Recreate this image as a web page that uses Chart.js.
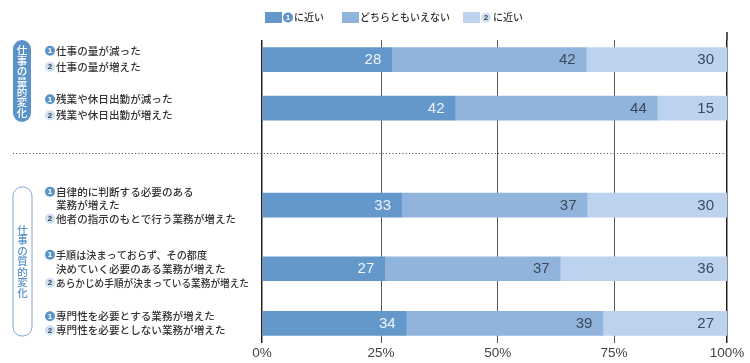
<!DOCTYPE html>
<html>
<head>
<meta charset="utf-8">
<script src="https://cdn.jsdelivr.net/npm/chart.js@4"></script>
<style>
    html, body { margin: 0; padding: 0; background: #fff; }
    canvas { display: block; }
</style>
</head>
<body>
<canvas id="mainChart" width="750" height="363"></canvas>
<script>
// bar lengths as drawn in the picture (they differ a little from the printed numbers)
const near1Values = [27.9, 41.5, 30.0, 26.4, 31.0];
const neutralValues = [41.8, 43.5, 39.9, 37.7, 42.3];
const near2Values = [30.3, 15.0, 30.1, 35.9, 26.7];

// numbers printed on the bars
const near1Printed = ['28', '42', '33', '27', '34'];
const neutralPrinted = ['42', '44', '37', '37', '39'];
const near2Printed = ['30', '15', '30', '36', '27'];

const seriesNames = ['に近い', 'どちらともいえない', 'に近い'];
const tickLabels = ['0%', '25%', '50%', '75%', '100%'];
const gridValues = [0, 25.6, 50.7, 75.7, 100];

// empty slots in front of each row, the rows are not evenly spaced
const slotsBefore = [6, 15, 31, 20, 17];
const slotsAfter = 6;

const rowLines = [
    [['1', '仕事の量が減った'], ['2', '仕事の量が増えた']],
    [['1', '残業や休日出勤が減った'], ['2', '残業や休日出勤が増えた']],
    [['1', '自律的に判断する必要のある'], ['', '業務が増えた'], ['2', '他者の指示のもとで行う業務が増えた']],
    [['1', '手順は決まっておらず、その都度', 151], ['', '決めていく必要のある業務が増えた'], ['2', 'あらかじめ手順が決まっている業務が増えた', 193]],
    [['1', '専門性を必要とする業務が増えた'], ['2', '専門性を必要としない業務が増えた']]
];
const lineGaps = [16, 16, 13.5, 14, 14];

const groupQuantity = '仕事の量的変化';
const groupQuality = '仕事の質的変化';

const colorNear1 = '#6498ca';
const colorNeutral = '#90b4dc';
const colorNear2 = '#bdd2ee';
const colorText = '#333333';
const jpFont = '"Noto Sans CJK JP"';
const numFont = '"Liberation Sans"';

// spread the five rows over the category slots
const categories = [];
const rowSlots = [];
slotsBefore.forEach(function (gap, i) {
    for (let k = 0; k < gap; k++) categories.push('');
    rowSlots.push(categories.length);
    categories.push('row' + i);
});
for (let k = 0; k < slotsAfter; k++) categories.push('');

function spread(values) {
    const out = categories.map(() => null);
    values.forEach((v, i) => { out[rowSlots[i]] = v; });
    return out;
}

function drawMarker(ctx, digit, x, y) {
    ctx.beginPath();
    ctx.arc(x, y, 5, 0, Math.PI * 2);
    ctx.fillStyle = digit === '1' ? '#5b93c9' : '#cfdef1';
    ctx.fill();
    ctx.fillStyle = digit === '1' ? '#ffffff' : '#2f4258';
    ctx.font = 'bold 8px ' + numFont;
    ctx.textAlign = 'center';
    ctx.textBaseline = 'middle';
    ctx.fillText(digit, x, y + 0.5);
}

function drawVertical(ctx, text, x, top, step, color) {
    ctx.fillStyle = color;
    ctx.font = '500 10.5px ' + jpFont;
    ctx.textAlign = 'center';
    ctx.textBaseline = 'middle';
    Array.from(text).forEach(function (ch, i) {
        ctx.fillText(ch, x, top + i * step);
    });
}

const sidePlugin = {
    id: 'sidePlugin',
    afterDraw: function (chart) {
        const ctx = chart.ctx;
        const xScale = chart.scales.x;
        const yScale = chart.scales.y;
        ctx.save();

        // printed numbers on the segments
        const printed = [near1Printed, neutralPrinted, near2Printed];
        ctx.font = '15px ' + numFont;
        ctx.textBaseline = 'middle';
        ctx.textAlign = 'right';
        printed.forEach(function (labels, ds) {
            const meta = chart.getDatasetMeta(ds);
            labels.forEach(function (text, i) {
                const bar = meta.data[rowSlots[i]];
                ctx.fillStyle = ds === 0 ? '#eef4fa' : '#3b4a5c';
                ctx.fillText(text, bar.x - (ds === 2 ? 13 : 10.5), bar.y + 0.5);
            });
        });

        // 100% line runs a bit above the others
        const right = xScale.getPixelForValue(100);
        ctx.strokeStyle = '#222222';
        ctx.lineWidth = 1.5;
        ctx.beginPath();
        ctx.moveTo(right, 32);
        ctx.lineTo(right, chart.chartArea.top);
        ctx.stroke();

        // dotted divider
        ctx.strokeStyle = '#444444';
        ctx.lineWidth = 1;
        ctx.setLineDash([1, 2.3]);
        ctx.beginPath();
        ctx.moveTo(13, 153.5);
        ctx.lineTo(right, 153.5);
        ctx.stroke();
        ctx.setLineDash([]);

        // row captions
        rowLines.forEach(function (lines, i) {
            const centre = yScale.getPixelForValue(rowSlots[i]) - (i < 2 ? 1 : 0);
            lines.forEach(function (line, n) {
                const y = centre + (n - (lines.length - 1) / 2) * lineGaps[i];
                if (line[0]) drawMarker(ctx, line[0], 50, y);
                ctx.fillStyle = colorText;
                ctx.font = '500 10.6px ' + jpFont;
                ctx.textAlign = 'left';
                ctx.textBaseline = 'middle';
                ctx.fillText(line[1], 56, y, line[2] || 200);
            });
        });

        // group pills
        ctx.beginPath();
        ctx.roundRect(13, 40, 18, 82, 9);
        ctx.fillStyle = '#5b93c9';
        ctx.fill();
        drawVertical(ctx, groupQuantity, 22, 50.5, 10.4, '#ffffff');

        ctx.beginPath();
        ctx.roundRect(13, 187, 19, 149, 9);
        ctx.strokeStyle = '#7fa8d6';
        ctx.lineWidth = 1;
        ctx.stroke();
        drawVertical(ctx, groupQuality, 22.5, 230, 10.5, '#5b93c9');

        // legend
        const swatchX = [265, 342, 463];
        const swatchColors = [colorNear1, colorNeutral, colorNear2];
        const textX = [294, 360, 493];
        const markerX = [288, 0, 486];
        const markerDigit = ['1', '', '2'];
        seriesNames.forEach(function (name, i) {
            ctx.fillStyle = swatchColors[i];
            ctx.fillRect(swatchX[i], 12, 17, 11);
            if (markerDigit[i]) drawMarker(ctx, markerDigit[i], markerX[i], 17.5);
            ctx.fillStyle = colorText;
            ctx.font = '500 10px ' + jpFont;
            ctx.textAlign = 'left';
            ctx.textBaseline = 'middle';
            ctx.fillText(name, textX[i], 17.5);
        });

        ctx.restore();
    }
};

new Chart(document.getElementById('mainChart').getContext('2d'), {
    type: 'bar',
    data: {
        labels: categories,
        datasets: [
            { label: seriesNames[0], data: spread(near1Values), backgroundColor: colorNear1 },
            { label: seriesNames[1], data: spread(neutralValues), backgroundColor: colorNeutral },
            { label: seriesNames[2], data: spread(near2Values), backgroundColor: colorNear2 }
        ]
    },
    options: {
        indexAxis: 'y',
        responsive: false,
        animation: false,
        layout: { padding: { left: 262, top: 40, right: 23, bottom: 0 } },
        datasets: { bar: { barThickness: 24, borderWidth: 0 } },
        plugins: { legend: { display: false }, tooltip: { enabled: false } },
        scales: {
            x: {
                stacked: true,
                min: 0,
                max: 100,
                border: { display: false },
                grid: {
                    drawTicks: false,
                    color: ctx => (ctx.index === 0 || ctx.index === gridValues.length - 1) ? '#222222' : '#5a5a5a',
                    lineWidth: ctx => (ctx.index === 0 || ctx.index === gridValues.length - 1) ? 1.5 : 1
                },
                afterBuildTicks: function (scale) {
                    scale.ticks = gridValues.map(v => ({ value: v }));
                },
                afterFit: function (scale) {
                    scale.height = 20;
                },
                ticks: {
                    autoSkip: false,
                    maxRotation: 0,
                    padding: 2,
                    color: '#444444',
                    font: { family: numFont, size: 13.5 },
                    callback: function (value, index) { return tickLabels[index]; }
                }
            },
            y: {
                stacked: true,
                display: false,
                grid: { display: false }
            }
        }
    },
    plugins: [sidePlugin]
});
</script>
</body>
</html>
